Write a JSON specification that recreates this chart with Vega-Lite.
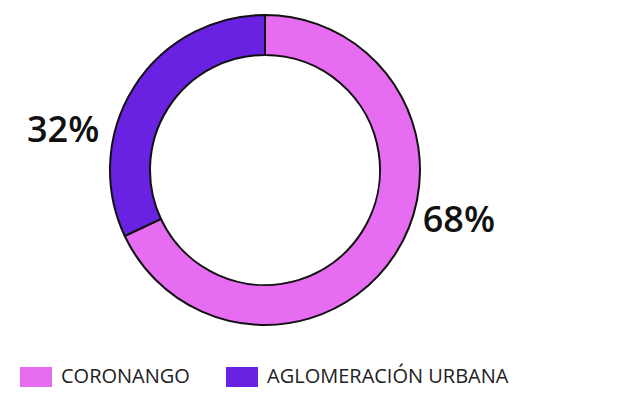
{
  "$schema": "https://vega.github.io/schema/vega-lite/v6.json",
  "width": 530,
  "height": 340,
  "padding": {"left": 0, "top": 0, "right": 0, "bottom": 0},
  "background": "white",
  "config": {"view": {"stroke": null}, "font": "Open Sans"},
  "data": {
    "values": [
      {"region": "CORONANGO", "pct": 68, "label": "68%", "orden": 1},
      {"region": "AGLOMERACIÓN URBANA", "pct": 32, "label": "32%", "orden": 2}
    ]
  },
  "encoding": {
    "theta": {"field": "pct", "type": "quantitative", "stack": true},
    "order": {"field": "orden", "type": "quantitative"}
  },
  "layer": [
    {
      "mark": {"type": "arc", "outerRadius": 155, "innerRadius": 115, "stroke": "#111111", "strokeWidth": 2},
      "encoding": {
        "color": {
          "field": "region",
          "type": "nominal",
          "scale": {"domain": ["CORONANGO", "AGLOMERACIÓN URBANA"], "range": ["#E66CF1", "#6A22E2"]},
          "sort": null,
          "legend": {
            "title": null,
            "orient": "bottom",
            "offset": 1,
            "padding": 20,
            "direction": "horizontal",
            "symbolType": "M-1,-0.625H1V0.625H-1Z",
            "symbolSize": 1024,
            "symbolStrokeWidth": 0,
            "labelFontSize": 20,
            "labelColor": "#222222",
            "labelFont": "Open Sans",
            "labelOffset": 9,
            "columnPadding": 36,
            "labelLimit": 400
          }
        }
      }
    },
    {
      "mark": {"type": "text", "radius": 203, "thetaOffset": -0.34, "dx": -4, "dy": 6, "fontSize": 36, "fontWeight": 600, "color": "#111111", "align": "center", "baseline": "middle"},
      "encoding": {
        "text": {"field": "label", "type": "nominal"}
      }
    }
  ]
}
